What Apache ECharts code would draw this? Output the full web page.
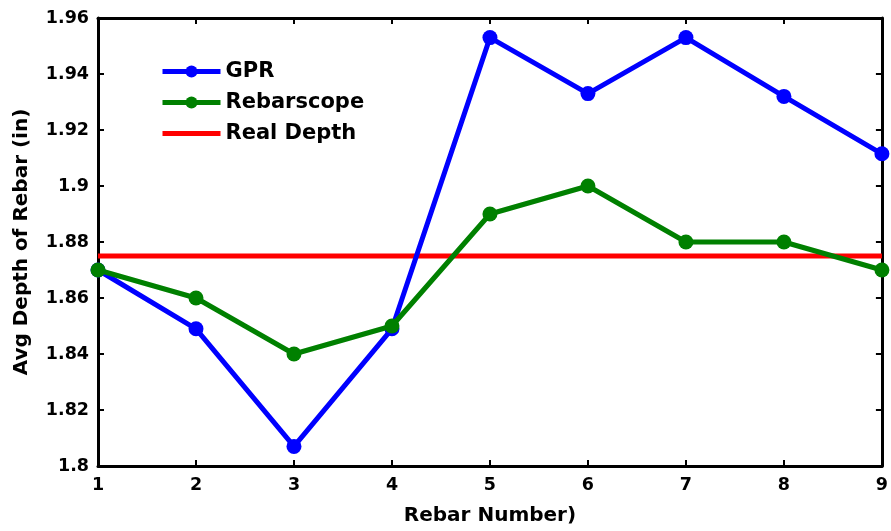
<!DOCTYPE html>
<html><head><meta charset="utf-8">
<script src="https://cdn.jsdelivr.net/npm/echarts@6/dist/echarts.min.js"></script>
<style>html,body{margin:0;padding:0;background:#fff}#c{width:891px;height:531px}</style>
</head><body><div id="c"></div>
<script>
const rebarNumbers = [1, 2, 3, 4, 5, 6, 7, 8, 9];
const gprValues = [1.870, 1.849, 1.807, 1.849, 1.953, 1.933, 1.953, 1.932, 1.9115];
const rebarscopeValues = [1.870, 1.860, 1.840, 1.850, 1.890, 1.900, 1.880, 1.880, 1.870];
const realDepth = 1.875;
const yTicks = [1.8, 1.82, 1.84, 1.86, 1.88, 1.9, 1.92, 1.94, 1.96];

const font = 'DejaVu Sans, sans-serif';
const chart = echarts.init(document.getElementById('c'));
const pair = arr => rebarNumbers.map((x, i) => [x, arr[i]]);
const axisCommon = {
  axisLine: {show: true, onZero: false, lineStyle: {color: '#000', width: 3}},
  axisTick: {show: true, inside: true, length: 6, lineStyle: {color: '#000', width: 2}},
  splitLine: {show: false}
};
chart.setOption({
  animation: false,
  backgroundColor: '#fff',
  grid: {left: 98, right: 5, top: 18, bottom: 61, containLabel: false},
  legend: {
    left: 155, top: 56, orient: 'vertical', itemGap: 10,
    itemWidth: 58, itemHeight: 15,
    lineStyle: {width: 5},
    textStyle: {fontFamily: font, fontWeight: 'bold', fontSize: 21, color: '#000'},
    data: ['GPR', 'Rebarscope', {name: 'Real Depth', itemStyle: {opacity: 0}}]
  },
  xAxis: [
    Object.assign({
      type: 'value', min: 1, max: 9, interval: 1, position: 'bottom',
      name: 'Rebar Number)', nameLocation: 'middle', nameGap: 40,
      nameTextStyle: {fontFamily: font, fontWeight: 'bold', fontSize: 20, color: '#000'},
      axisLabel: {fontFamily: font, fontWeight: 'bold', fontSize: 17.5, color: '#000', margin: 10}
    }, axisCommon),
    Object.assign({
      type: 'value', min: 1, max: 9, interval: 1, position: 'top',
      axisLabel: {show: false}
    }, axisCommon)
  ],
  yAxis: [
    Object.assign({
      type: 'value', min: 1.8, max: 1.96, interval: 0.02, position: 'left',
      name: 'Avg Depth of Rebar (in)', nameLocation: 'middle', nameGap: 66,
      nameTextStyle: {fontFamily: font, fontWeight: 'bold', fontSize: 20, color: '#000'},
      axisLabel: {fontFamily: font, fontWeight: 'bold', fontSize: 17.5, color: '#000', margin: 9,
        formatter: v => { const t = yTicks.find(k => Math.abs(k - v) < 1e-6); return t === undefined ? '' : String(t); }}
    }, axisCommon),
    Object.assign({
      type: 'value', min: 1.8, max: 1.96, interval: 0.02, position: 'right',
      axisLabel: {show: false}
    }, axisCommon)
  ],
  series: [
    {name: 'Real Depth', type: 'line', data: [[1, realDepth], [9, realDepth]], symbol: 'none',
     lineStyle: {color: '#ff0000', width: 5}, itemStyle: {color: '#ff0000'}, z: 1},
    {name: 'GPR', type: 'line', data: pair(gprValues), symbol: 'circle', symbolSize: 15,
     lineStyle: {color: '#0000ff', width: 5}, itemStyle: {color: '#0000ff'}, z: 2},
    {name: 'Rebarscope', type: 'line', data: pair(rebarscopeValues), symbol: 'circle', symbolSize: 15,
     lineStyle: {color: '#008000', width: 5}, itemStyle: {color: '#008000'}, z: 3}
  ]
});
</script></body></html>
